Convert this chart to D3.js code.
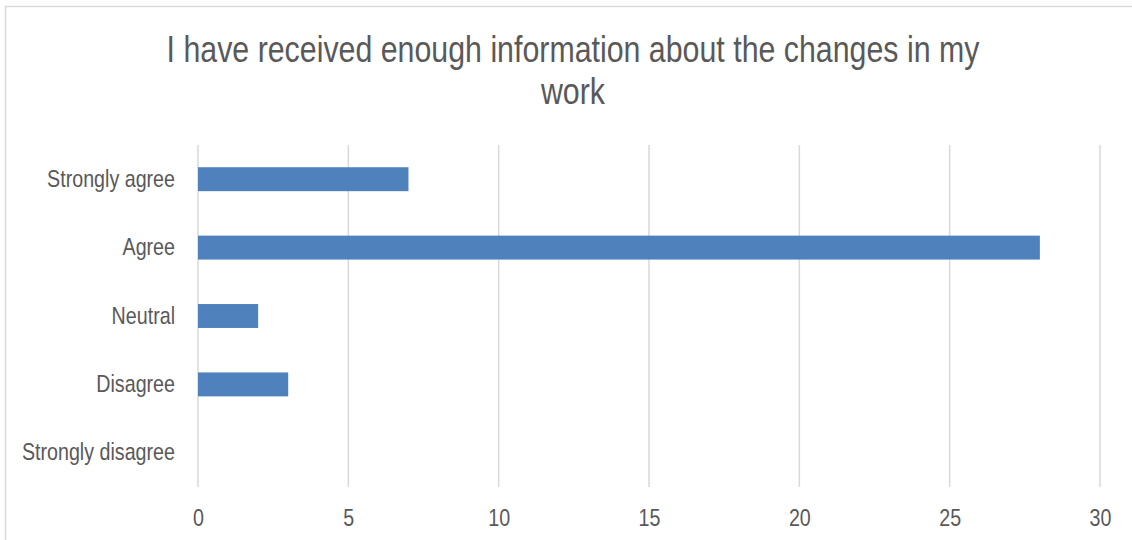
<!DOCTYPE html>
<html><head><meta charset="utf-8">
<script src="https://cdn.jsdelivr.net/npm/d3@7"></script>
<style>
html,body{margin:0;padding:0;background:#fff;}
svg text{font-family:"Liberation Sans",Arial,sans-serif;fill:#595959;}
</style></head>
<body>
<svg id="chart" width="1132" height="540"></svg>
<script>
const categories = ["Strongly agree","Agree","Neutral","Disagree","Strongly disagree"];
const values = [7, 28, 2, 3, 0];
const ticks = [0,5,10,15,20,25,30];
const titleLines = ["I have received enough information about the changes in my","work"];

const svg = d3.select("#chart");
const W = 1132, H = 540;
const m = {left:198, right:32, top:145, bottom:53};
const SX = 0.82; // narrow font emulation

svg.append("rect").attr("x",5.5).attr("y",6.5).attr("width",1140).attr("height",560)
  .attr("fill","#fff").attr("stroke","#d9d9d9").attr("stroke-width",1.5);

const x = d3.scaleLinear().domain([0,30]).range([m.left, W-m.right]);
const y = d3.scaleBand().domain(categories).range([m.top, H-m.bottom]).paddingInner(0.65).paddingOuter(0.325);

// gridlines
svg.append("g").selectAll("line").data(ticks).join("line")
  .attr("x1",d=>x(d)).attr("x2",d=>x(d)).attr("y1",m.top).attr("y2",H-m.bottom)
  .attr("stroke","#d9d9d9").attr("stroke-width",1.5);

// bars
svg.append("g").selectAll("rect").data(values).join("rect")
  .attr("x",x(0)).attr("y",(d,i)=>y(categories[i]))
  .attr("width",d=>x(d)-x(0)).attr("height",y.bandwidth())
  .attr("fill","#4f81bd");

function narrow(sel){
  sel.each(function(){
    const t = d3.select(this);
    const xv = +(t.attr("x")||0);
    t.attr("x", xv/SX).attr("transform",`scale(${SX},1)`);
  });
}

// x axis
const xAxis = svg.append("g").attr("transform",`translate(0,${H-m.bottom})`)
  .call(d3.axisBottom(x).tickValues(ticks).tickSize(0).tickPadding(22));
xAxis.select(".domain").remove();
xAxis.selectAll("text").attr("font-size",24).attr("fill","#595959").style("font-family",null).call(narrow);

// y axis
const yAxis = svg.append("g").attr("transform",`translate(${m.left},0)`)
  .call(d3.axisLeft(y).tickSize(0).tickPadding(23));
yAxis.select(".domain").remove();
yAxis.selectAll("text").attr("font-size",24).attr("fill","#595959").style("font-family",null).call(narrow);

// title
svg.append("g").selectAll("text").data(titleLines).join("text")
  .attr("x",573).attr("y",(d,i)=>62+i*42).attr("text-anchor","middle")
  .attr("font-size",37).text(d=>d).call(narrow);
</script>
</body></html>
